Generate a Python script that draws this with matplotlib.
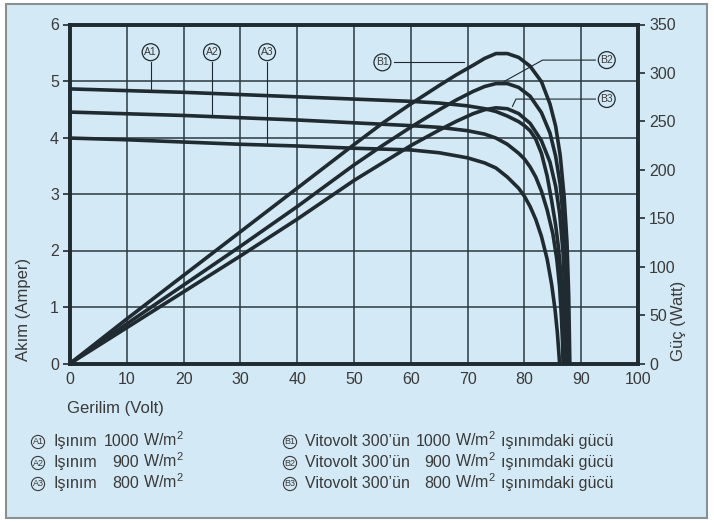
import numpy as np
import matplotlib
matplotlib.use("Agg")
import matplotlib.pyplot as plt
from matplotlib.patches import Rectangle

plt.rcParams['font.family'] = ['Liberation Sans', 'DejaVu Sans']
plt.rcParams['mathtext.fontset'] = 'custom'
plt.rcParams['mathtext.rm'] = 'Liberation Sans'
plt.rcParams['mathtext.it'] = 'Liberation Sans'

# I-V curves (Akim, Amper) vs Gerilim (Volt)
a1_v = [0, 10, 20, 30, 40, 50, 60, 65, 70, 73, 75, 77, 79, 80, 81, 82, 83, 84, 84.8, 85.5, 86, 86.4, 86.8, 87.0, 87.2]
a1_i = [4.86, 4.83, 4.80, 4.76, 4.72, 4.68, 4.64, 4.61, 4.56, 4.51, 4.46, 4.38, 4.28, 4.21, 4.12, 3.97, 3.72, 3.32, 2.88, 2.45, 2.05, 1.60, 0.95, 0.50, 0.0]
a2_v = [0, 10, 20, 30, 40, 50, 60, 65, 70, 73, 75, 77, 79, 80, 81, 82, 83, 84, 85, 85.7, 86.2, 86.5, 86.7, 86.8]
a2_i = [4.45, 4.42, 4.39, 4.35, 4.31, 4.26, 4.21, 4.18, 4.12, 4.06, 3.99, 3.88, 3.72, 3.62, 3.48, 3.30, 3.05, 2.72, 2.30, 1.85, 1.35, 0.85, 0.40, 0.0]
a3_v = [0, 10, 20, 30, 40, 50, 60, 65, 70, 73, 75, 77, 79, 80, 81, 82, 83, 84, 84.8, 85.4, 85.8, 86.2]
a3_i = [3.99, 3.96, 3.92, 3.88, 3.85, 3.81, 3.78, 3.73, 3.64, 3.55, 3.46, 3.30, 3.10, 2.96, 2.78, 2.55, 2.25, 1.85, 1.40, 0.95, 0.55, 0.0]

# power curves (Guc, Watt)
b1_v = [0, 10, 20, 30, 40, 50, 55, 60, 65, 68, 71, 73, 75, 77, 79, 81, 83, 84.5, 85.5, 86.3, 87, 87.5, 87.8, 88.0]
b1_p = [0, 46, 91, 136, 181, 226, 248, 268, 287, 298, 308, 315, 320, 320, 316, 307, 291, 268, 245, 215, 172, 125, 70, 0]
b2_v = [0, 10, 20, 30, 40, 50, 55, 60, 65, 68, 71, 73, 75, 77, 79, 81, 83, 84.5, 85.5, 86.3, 86.9, 87.3, 87.6]
b2_p = [0, 41, 81, 121, 162, 205, 225, 244, 262, 272, 281, 286, 289, 289, 285, 276, 259, 238, 214, 185, 145, 95, 0]
b3_v = [0, 10, 20, 30, 40, 50, 55, 60, 65, 68, 71, 73, 75, 77, 79, 81, 83, 84.5, 85.5, 86.2, 86.8, 87.1, 87.3]
b3_p = [0, 37, 74, 111, 149, 189, 207, 225, 241, 250, 258, 262, 264, 263, 258, 248, 230, 208, 183, 155, 115, 70, 0]

x_ticks = list(range(0, 101, 10))
y_ticks = list(range(0, 7))
p_ticks = list(range(0, 351, 50))

legend_a = [("A1", "1000"), ("A2", "900"), ("A3", "800")]
legend_b = [("B1", "1000"), ("B2", "900"), ("B3", "800")]

BG = "#d3e9f5"
INK = "#1f2b31"
TXT = "#3a3a3a"
W, H = 714, 523

fig = plt.figure(figsize=(W / 100, H / 100), dpi=100)
fig.patch.set_facecolor("white")
fig.patches.append(Rectangle((6 / W, 1 - 518 / H), 701 / W, 514 / H, transform=fig.transFigure,
                             facecolor=BG, edgecolor="#8a8f92", linewidth=1.5, zorder=-10))

ax = fig.add_axes([70 / W, 1 - 363.5 / H, 568 / W, 339 / H])
ax.set_facecolor(BG)
ax.set_xlim(0, 100)
ax.set_ylim(0, 6)
ax.set_xticks(x_ticks)
ax.set_yticks(y_ticks)
for s in ax.spines.values():
    s.set_linewidth(2.6)
    s.set_color(INK)
for v in x_ticks[1:-1]:
    ax.axvline(v, color="#2b3940", lw=1.1, zorder=1)
for v in y_ticks[1:-1]:
    ax.axhline(v, color="#2b3940", lw=1.1, zorder=1)
ax.tick_params(axis="y", direction="out", length=5, width=1.2, color=INK,
               labelsize=11.5, labelcolor=TXT, pad=3)
ax.tick_params(axis="x", direction="out", length=0, labelsize=11.5, labelcolor=TXT, pad=6)

ax2 = ax.twinx()
ax2.set_ylim(0, 350)
ax2.set_yticks(p_ticks)
ax2.tick_params(axis="y", direction="out", length=5, width=1.2, color=INK,
                labelsize=11.5, labelcolor=TXT, pad=3)
for s in ax2.spines.values():
    s.set_linewidth(2.6)
    s.set_color(INK)

for v, i in [(a1_v, a1_i), (a2_v, a2_i), (a3_v, a3_i)]:
    ax.plot(v, i, color=INK, lw=2.6, zorder=3, solid_joinstyle="round")
for v, p in [(b1_v, b1_p), (b2_v, b2_p), (b3_v, b3_p)]:
    ax2.plot(v, p, color=INK, lw=2.6, zorder=3, solid_joinstyle="round")

circ = dict(boxstyle="circle,pad=0.2", facecolor=BG, edgecolor=INK, linewidth=0.9)

# A labels with vertical leaders
for (lab, _), xv, (v, i) in zip(legend_a, [14.2, 25.0, 34.7], [(a1_v, a1_i), (a2_v, a2_i), (a3_v, a3_i)]):
    yc = np.interp(xv, v, i)
    ax.plot([xv, xv], [5.33, yc], color=INK, lw=0.8, zorder=2)
    ax.text(xv, 5.51, lab, ha="center", va="center", fontsize=7.5, color=TXT, bbox=circ, zorder=5)

# B labels with leaders (placed in ampere units of left axis)
ax.plot([57.0, 69.3], [5.33, 5.33], color=INK, lw=0.8, zorder=2)
ax.text(55.0, 5.33, "B1", ha="center", va="center", fontsize=7.5, color=TXT, bbox=circ, zorder=5)
ax.plot([92.5, 83.2, 76.4], [5.37, 5.37, 4.99], color=INK, lw=0.8, zorder=2)
ax.text(94.5, 5.37, "B2", ha="center", va="center", fontsize=7.5, color=TXT, bbox=circ, zorder=5)
ax.plot([92.5, 78.5, 77.9], [4.68, 4.68, 4.55], color=INK, lw=0.8, zorder=2)
ax.text(94.5, 4.68, "B3", ha="center", va="center", fontsize=7.5, color=TXT, bbox=circ, zorder=5)

def ft(x, y, s, **kw):
    kw.setdefault("fontsize", 12)
    kw.setdefault("color", TXT)
    fig.text(x / W, 1 - y / H, s, **kw)

ft(67, 409, "Gerilim (Volt)", ha="left", va="center")
ft(24, 361, "Akım (Amper)", ha="center", va="bottom", rotation=90)
ft(678, 361, "Güç (Watt)", ha="center", va="bottom", rotation=90)

# legend block under the chart, text pieces share a baseline
small = dict(boxstyle="circle,pad=0.12", facecolor=BG, edgecolor=TXT, linewidth=0.8)
rows = [446, 467, 488]
unit = r"W/m$^{2}$"
fs = 11.5
for (lab, num), y in zip(legend_a, rows):
    ft(38, y - 4, lab, ha="center", va="center", fontsize=6.5, bbox=small)
    ft(54, y, "Işınım", ha="left", va="baseline", fontsize=fs)
    ft(139, y, num, ha="right", va="baseline", fontsize=fs)
    ft(143, y, unit, ha="left", va="baseline", fontsize=fs)
for (lab, num), y in zip(legend_b, rows):
    ft(290, y - 4, lab, ha="center", va="center", fontsize=6.5, bbox=small)
    ft(305, y, "Vitovolt 300’ün", ha="left", va="baseline", fontsize=fs)
    ft(451, y, num, ha="right", va="baseline", fontsize=fs)
    ft(455, y, unit, ha="left", va="baseline", fontsize=fs)
    ft(501, y, "ışınımdaki gücü", ha="left", va="baseline", fontsize=fs)

fig.savefig("out.png", dpi=100, facecolor=fig.get_facecolor())
